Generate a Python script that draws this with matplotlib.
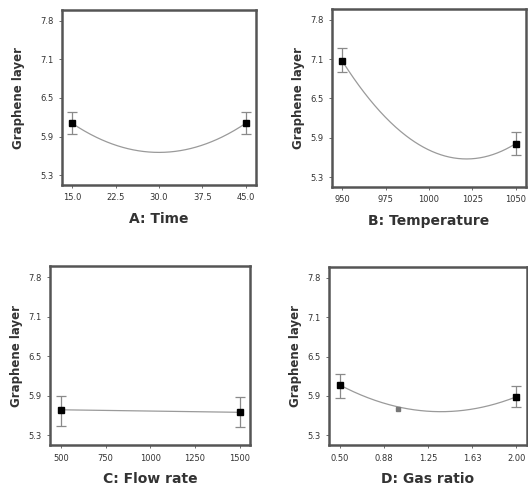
import numpy as np
import matplotlib
matplotlib.use("Agg")
import matplotlib.pyplot as plt

# factor levels (low, center, high) and predicted response
time_levels = [15.0, 30.0, 45.0]
time_pred = [6.14, 5.67, 6.14]
temp_levels = [950, 1000, 1050]
temp_pred = [7.14, 5.73, 5.83]
flow_levels = [500, 1000, 1500]
flow_pred = [5.70, 5.68, 5.66]
gas_levels = [0.50, 1.25, 2.00]
gas_pred = [6.10, 5.68, 5.91]

# design points with error bars (x, y, lower, upper)
time_pts_x = [15.0, 45.0]
time_pts_y = [6.14, 6.14]
time_lo = [5.96, 5.96]
time_hi = [6.32, 6.32]
temp_pts_x = [950, 1050]
temp_pts_y = [7.14, 5.83]
temp_lo = [6.97, 5.65]
temp_hi = [7.35, 6.02]
flow_pts_x = [500, 1500]
flow_pts_y = [5.70, 5.66]
flow_lo = [5.44, 5.43]
flow_hi = [5.92, 5.90]
gas_pts_x = [0.50, 2.00]
gas_pts_y = [6.10, 5.91]
gas_lo = [5.89, 5.74]
gas_hi = [6.27, 6.08]
gas_extra_x = [1.0]
gas_extra_y = [5.71]

y_tick_labels = ["5.3", "5.9", "6.5", "7.1", "7.8"]
time_ticks = ["15.0", "22.5", "30.0", "37.5", "45.0"]
temp_ticks = ["950", "975", "1000", "1025", "1050"]
flow_ticks = ["500", "750", "1000", "1250", "1500"]
gas_ticks = ["0.50", "0.88", "1.25", "1.63", "2.00"]

fig = plt.figure(figsize=(5.28, 4.86), dpi=100)

panels = [
    ([0.117, 0.619, 0.368, 0.360], time_levels, time_pred, time_pts_x, time_pts_y,
     time_lo, time_hi, time_ticks, "A: Time", 11),
    ([0.629, 0.615, 0.367, 0.366], temp_levels, temp_pred, temp_pts_x, temp_pts_y,
     temp_lo, temp_hi, temp_ticks, "B: Temperature", 4),
    ([0.095, 0.084, 0.379, 0.368], flow_levels, flow_pred, flow_pts_x, flow_pts_y,
     flow_lo, flow_hi, flow_ticks, "C: Flow rate", 4),
    ([0.623, 0.084, 0.375, 0.366], gas_levels, gas_pred, gas_pts_x, gas_pts_y,
     gas_lo, gas_hi, gas_ticks, "D: Gas ratio", 4),
]

for rect, lv, pred, px, py, lo, hi, xt, xlabel, ypad in panels:
    ax = fig.add_axes(rect)
    coef = np.polyfit(lv, pred, 2)
    xs = np.linspace(lv[0], lv[-1], 200)
    ax.plot(xs, np.polyval(coef, xs), color="#9a9a9a", lw=0.9)
    py = np.array(py)
    yerr = [py - np.array(lo), np.array(hi) - py]
    ax.errorbar(px, py, yerr=yerr, fmt="s", color="black", ms=4,
                ecolor="#8a8a8a", elinewidth=0.9, capsize=3.5, capthick=0.9)
    if xlabel.startswith("D"):
        ax.plot(gas_extra_x, gas_extra_y, "s", color="#777777", ms=2.5)

    span = lv[-1] - lv[0]
    ax.set_xlim(lv[0] - 0.06 * span, lv[-1] + 0.06 * span)
    ax.set_xticks(np.linspace(lv[0], lv[-1], 5))
    ax.set_xticklabels(xt)
    ax.set_ylim(5.14, 7.97)
    ax.set_yticks(np.linspace(5.3, 7.8, 5))
    ax.set_yticklabels(y_tick_labels)
    ax.tick_params(labelsize=6, colors="#555555", length=2.5, width=0.6,
                   labelcolor="#333333")
    for s in ax.spines.values():
        s.set_linewidth(1.8)
        s.set_color("#555555")
    ax.set_xlabel(xlabel, fontsize=10, fontweight="bold", color="#333333", labelpad=7)
    ax.set_ylabel("Graphene layer", fontsize=8.5, fontweight="bold", color="#333333",
                  labelpad=ypad)

fig.savefig("out.png", dpi=100)
